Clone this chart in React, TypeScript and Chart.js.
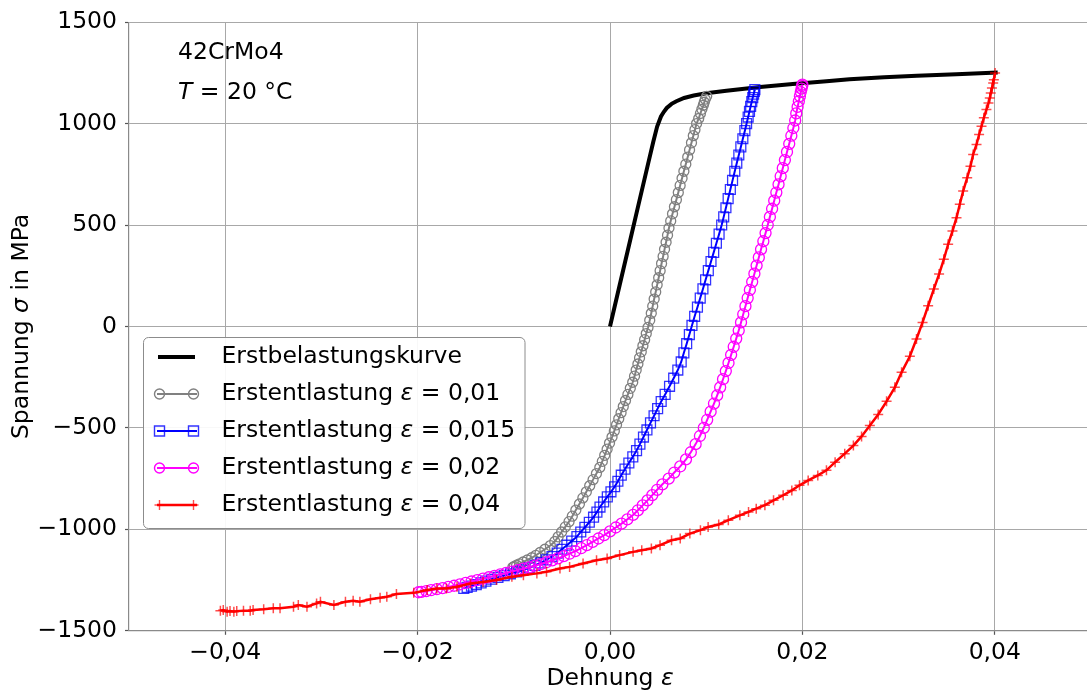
import React, { useEffect, useRef } from 'react';
import { Chart, registerables } from 'chart.js';

Chart.register(...registerables);

// ---------- data ----------
const X_TICKS = [-0.04, -0.02, 0, 0.02, 0.04];
const X_TICK_LABELS = ['\u22120,04', '\u22120,02', '0,00', '0,02', '0,04'];
const Y_TICKS = [-1500, -1000, -500, 0, 500, 1000, 1500];
const Y_TICK_LABELS = ['\u22121500', '\u22121000', '\u2212500', '0', '500', '1000', '1500'];

const SERIES_NAMES = ['Erstbelastungskurve', 'Erstentlastung', 'Erstentlastung', 'Erstentlastung', 'Erstentlastung'];
const SERIES_EPS = ['', '0,01', '0,015', '0,02', '0,04'];
const MATERIAL = '42CrMo4';
const TEMPERATURE = '20 \u00b0C';
const X_TITLE = 'Dehnung';
const Y_TITLE_A = 'Spannung';
const Y_TITLE_B = 'in MPa';

const BLACK_STRAIN = [0, 0.001, 0.002, 0.003, 0.004, 0.0045, 0.0049, 0.0051, 0.0053, 0.0056, 0.0059, 0.0064, 0.0069, 0.0077, 0.0087, 0.01, 0.0121, 0.0156, 0.019, 0.0225, 0.0249, 0.0285, 0.0319, 0.036, 0.0403];
const BLACK_STRESS = [0, 203, 405, 608, 810, 910, 985, 1010, 1035, 1058, 1077, 1097, 1110, 1126, 1138, 1149, 1162, 1180, 1195, 1209, 1218, 1228, 1236, 1243, 1251];

const GREY_STRAIN = [
  0.01005, 0.0099, 0.0098, 0.0097, 0.00955, 0.0094, 0.00922, 0.009,
  0.00883, 0.00866, 0.00847, 0.00827, 0.00808, 0.00788, 0.00768, 0.00749, 0.00729, 0.0071,
  0.0069, 0.0067, 0.0065, 0.00631, 0.00613, 0.00598, 0.00583, 0.00567, 0.00552, 0.00536,
  0.00521, 0.00506, 0.0049, 0.00475, 0.00459, 0.00444, 0.00429, 0.00413, 0.00395, 0.00377,
  0.0036, 0.00342, 0.00325, 0.00307, 0.0029, 0.00272, 0.00255, 0.00236, 0.00211, 0.00186,
  0.00161, 0.00138, 0.00115, 0.00091, 0.00068, 0.00045, 0.00021, -0.00005, -0.0003, -0.00055,
  -0.0008, -0.00106, -0.00141, -0.00176, -0.00211, -0.00246, -0.00282, -0.00318, -0.00355, -0.00392,
  -0.00426, -0.00465, -0.00503, -0.00539, -0.00574, -0.0062, -0.00677, -0.00727, -0.00771, -0.00814,
  -0.0086, -0.00903, -0.00941, -0.00971, -0.00996, -0.0101,
];
const GREY_STRESS = [
  1134, 1120, 1105, 1090, 1070, 1050, 1025, 1000,
  970, 940, 905, 870, 835, 800, 765, 730, 695, 660,
  625, 590, 555, 520, 485, 450, 415, 380, 345, 310,
  275, 240, 205, 170, 135, 100, 65, 30, -5, -35,
  -65, -95, -125, -155, -185, -215, -245, -275, -305, -335,
  -365, -395, -425, -455, -485, -515, -545, -575, -605, -635,
  -665, -695, -725, -755, -785, -815, -845, -875, -905, -935,
  -962, -988, -1013, -1037, -1060, -1080, -1098, -1114, -1128, -1140,
  -1151, -1161, -1170, -1177, -1183, -1187,
];

const BLUE_STRAIN = [
  0.01506, 0.015, 0.01493, 0.01484, 0.01474, 0.01462, 0.0145, 0.01436, 0.0142, 0.01402,
  0.01381, 0.0136, 0.01339, 0.01318, 0.01297, 0.01274, 0.01251, 0.01228, 0.01205, 0.01182,
  0.01161, 0.01134, 0.01106, 0.01078, 0.0105, 0.01022, 0.00994, 0.00966, 0.00938, 0.00909,
  0.0088, 0.00852, 0.00825, 0.00797, 0.00768, 0.0074, 0.00705, 0.00662, 0.00619, 0.00573,
  0.00532, 0.00495, 0.00458, 0.00421, 0.00384, 0.00348, 0.00311, 0.00276, 0.00237, 0.00196,
  0.00156, 0.00117, 0.00082, 0.00048, 0.0001, -0.00028, -0.00066, -0.00104, -0.00136, -0.00171,
  -0.00215, -0.00261, -0.00304, -0.00344, -0.00398, -0.00448, -0.005, -0.00549, -0.00603, -0.00663,
  -0.00723, -0.0078, -0.0084, -0.00905, -0.0097, -0.01035, -0.011, -0.01165, -0.0123, -0.0129,
  -0.0134, -0.0139, -0.0144, -0.01485, -0.0152,
];
const BLUE_STRESS = [
  1167, 1158, 1145, 1128, 1108, 1085, 1060, 1032, 1000, 965,
  925, 885, 845, 805, 765, 720, 675, 630, 585, 540,
  500, 455, 410, 365, 320, 275, 230, 185, 140, 95,
  50, 5, -40, -85, -130, -175, -215, -255, -295, -335,
  -370, -405, -440, -475, -510, -545, -580, -612, -643, -673,
  -703, -733, -763, -790, -815, -840, -865, -890, -915, -940,
  -965, -990, -1013, -1036, -1058, -1078, -1098, -1117, -1134, -1150,
  -1165, -1178, -1190, -1200, -1210, -1219, -1228, -1237, -1246, -1255,
  -1264, -1272, -1280, -1286, -1291,
];

const MAGENTA_STRAIN = [
  0.02, 0.01997, 0.01991, 0.01983, 0.01974, 0.01963, 0.0195, 0.01936, 0.01925, 0.01906,
  0.01885, 0.01863, 0.0184, 0.01818, 0.01796, 0.01774, 0.01752, 0.01729, 0.01707, 0.01685,
  0.01662, 0.0164, 0.01617, 0.01594, 0.0157, 0.01547, 0.01524, 0.01501, 0.01478, 0.01454,
  0.01431, 0.01408, 0.01385, 0.01362, 0.01338, 0.01312, 0.01286, 0.01259, 0.01232, 0.01204,
  0.01175, 0.01145, 0.01114, 0.01081, 0.01046, 0.0101, 0.00975, 0.00935, 0.0089, 0.0084,
  0.0079, 0.0073, 0.00668, 0.0061, 0.00545, 0.0049, 0.0044, 0.0039, 0.0034, 0.0029,
  0.0024, 0.0018, 0.0012, 0.0006, 0.0, -0.0006, -0.0012, -0.0018, -0.0024, -0.003,
  -0.0036, -0.0042, -0.0048, -0.0054, -0.006, -0.0066, -0.0072, -0.0078, -0.0084, -0.009,
  -0.0096, -0.0102, -0.0108, -0.0114, -0.012, -0.0126, -0.0132, -0.0138, -0.0144, -0.015,
  -0.0156, -0.0162, -0.0168, -0.0174, -0.018, -0.0186, -0.0191, -0.0196, -0.0199,
];
const MAGENTA_STRESS = [
  1192, 1185, 1172, 1155, 1135, 1110, 1082, 1050, 1015, 978,
  940, 900, 860, 820, 780, 740, 700, 660, 620, 580,
  540, 500, 460, 420, 380, 340, 300, 260, 220, 180,
  140, 100, 60, 20, -20, -60, -100, -140, -180, -220,
  -260, -300, -340, -380, -420, -460, -500, -540, -580, -620,
  -655, -690, -720, -750, -778, -805, -831, -857, -882, -906,
  -929, -951, -972, -991, -1010, -1028, -1045, -1062, -1078, -1093,
  -1107, -1120, -1132, -1143, -1153, -1162, -1171, -1179, -1187, -1194,
  -1201, -1208, -1215, -1222, -1229, -1236, -1243, -1250, -1257, -1264,
  -1271, -1278, -1284, -1290, -1295, -1300, -1304, -1308, -1310,
];

const RED_STRAIN = [
  0.04003, 0.0399, 0.03983, 0.0397, 0.03958, 0.03948, 0.03934, 0.03913, 0.03886, 0.03862,
  0.03837, 0.0381, 0.03775, 0.03747, 0.03713, 0.03671, 0.03636, 0.03602, 0.0356, 0.03515,
  0.0347, 0.03421, 0.03366, 0.03307, 0.03249, 0.03186, 0.03117, 0.03031, 0.02961, 0.02875,
  0.02788, 0.02701, 0.02615, 0.0253, 0.0244, 0.0234, 0.0225, 0.0216, 0.0206, 0.0197,
  0.0189, 0.018, 0.017, 0.0161, 0.0152, 0.0144, 0.0135, 0.0123, 0.0113, 0.0102,
  0.0094, 0.0083, 0.0073, 0.0064, 0.0052, 0.0043, 0.0033, 0.0024, 0.001, -0.0003,
  -0.0014, -0.0028, -0.0042, -0.0052, -0.0066, -0.0076, -0.009, -0.0102, -0.0118, -0.0132,
  -0.0145, -0.0159, -0.017, -0.018, -0.019, -0.0204, -0.0222, -0.0232, -0.0239, -0.0249,
  -0.026, -0.0267, -0.0275, -0.0287, -0.0301, -0.0305, -0.0315, -0.0324, -0.0329, -0.0343,
  -0.035, -0.036, -0.0371, -0.0374, -0.0381, -0.0388, -0.0391, -0.0395, -0.0398, -0.0402,
  -0.0405,
];
const RED_STRESS = [
  1249, 1216, 1200, 1175, 1151, 1126, 1101, 1069, 1028, 987,
  946, 897, 848, 790, 733, 667, 602, 536, 470, 405,
  331, 258, 184, 102, 20, -62, -147, -226, -300, -369,
  -434, -488, -542, -587, -627, -669, -709, -734, -759, -783,
  -808, -832, -857, -881, -898, -914, -931, -955, -976, -988,
  -1004, -1021, -1045, -1054, -1078, -1094, -1103, -1111, -1127, -1144,
  -1152, -1168, -1185, -1193, -1209, -1217, -1226, -1234, -1250, -1259,
  -1267, -1283, -1291, -1291, -1299, -1313, -1319, -1332, -1337, -1345,
  -1357, -1352, -1357, -1373, -1357, -1365, -1381, -1373, -1381, -1389,
  -1389, -1394, -1398, -1401, -1401, -1403, -1406, -1403, -1406, -1398,
  -1401,
];

// ---------- styling ----------
const FAMILY = "'DejaVu Sans', sans-serif";
const FS = 23.5;
const GRID = '#a8a8a8';
const SPINE = '#8a8a8a';
const TICK = '#555555';

const pts = (xs: number[], ys: number[]) => xs.map((x, i) => ({ x, y: ys[i] }));

type Part = [string, boolean];
function drawRich(ctx: CanvasRenderingContext2D, parts: Part[], x: number, y: number, align: 'left' | 'center') {
  const fonts = parts.map(([, it]) => `${it ? 'italic ' : ''}${FS}px ${FAMILY}`);
  let total = 0;
  const widths = parts.map(([t], i) => {
    ctx.font = fonts[i];
    const w = ctx.measureText(t).width;
    total += w;
    return w;
  });
  let cx = align === 'center' ? x - total / 2 : x;
  ctx.textAlign = 'left';
  ctx.textBaseline = 'middle';
  ctx.fillStyle = '#000';
  parts.forEach(([t], i) => {
    ctx.font = fonts[i];
    ctx.fillText(t, cx, y);
    cx += widths[i];
  });
}

function roundRect(ctx: CanvasRenderingContext2D, x: number, y: number, w: number, h: number, r: number) {
  ctx.beginPath();
  ctx.moveTo(x + r, y);
  ctx.lineTo(x + w - r, y);
  ctx.arcTo(x + w, y, x + w, y + r, r);
  ctx.lineTo(x + w, y + h - r);
  ctx.arcTo(x + w, y + h, x + w - r, y + h, r);
  ctx.lineTo(x + r, y + h);
  ctx.arcTo(x, y + h, x, y + h - r, r);
  ctx.lineTo(x, y + r);
  ctx.arcTo(x, y, x + r, y, r);
  ctx.closePath();
}

function marker(ctx: CanvasRenderingContext2D, kind: string, x: number, y: number, color: string, lw: number) {
  ctx.strokeStyle = color;
  ctx.lineWidth = lw;
  ctx.beginPath();
  if (kind === 'circle') {
    ctx.arc(x, y, 5, 0, Math.PI * 2);
  } else if (kind === 'rect') {
    ctx.rect(x - 5, y - 5, 10, 10);
  } else if (kind === 'cross') {
    ctx.moveTo(x - 5, y);
    ctx.lineTo(x + 5, y);
    ctx.moveTo(x, y - 5);
    ctx.lineTo(x, y + 5);
  }
  ctx.stroke();
}

const LEGEND_STYLE = [
  { line: '#000000', lw: 4, mk: '', mc: '' },
  { line: '#808080', lw: 2, mk: 'circle', mc: '#808080' },
  { line: '#0000ff', lw: 2, mk: 'rect', mc: 'rgba(0,0,255,0.8)' },
  { line: '#ff00ff', lw: 2, mk: 'circle', mc: '#ff00ff' },
  { line: '#ff0000', lw: 2.5, mk: 'cross', mc: 'rgba(255,0,0,0.7)' },
];

const overlay = {
  id: 'overlay',
  afterDraw(chart: any) {
    const ctx: CanvasRenderingContext2D = chart.ctx;
    const area = chart.chartArea;
    ctx.save();
    // axis titles
    drawRich(ctx, [[X_TITLE + ' ', false], ['\u03b5', true]], (area.left + area.right) / 2, 679, 'center');
    ctx.save();
    ctx.translate(22, (area.top + area.bottom) / 2);
    ctx.rotate(-Math.PI / 2);
    drawRich(ctx, [[Y_TITLE_A + ' ', false], ['\u03c3', true], [' ' + Y_TITLE_B, false]], 0, 0, 'center');
    ctx.restore();
    // annotations
    drawRich(ctx, [[MATERIAL, false]], 178, 53, 'left');
    drawRich(ctx, [['T', true], [' = ' + TEMPERATURE, false]], 178, 93, 'left');
    // legend
    const lx = 143.5, ly = 337.5, lw = 381.5, lh = 191;
    roundRect(ctx, lx, ly, lw, lh, 5);
    ctx.fillStyle = 'rgba(255,255,255,0.92)';
    ctx.fill();
    ctx.strokeStyle = '#8c8c8c';
    ctx.lineWidth = 1;
    ctx.stroke();
    LEGEND_STYLE.forEach((s, i) => {
      const ry = 357 + i * 37;
      ctx.strokeStyle = s.line;
      ctx.lineWidth = s.lw;
      ctx.beginPath();
      ctx.moveTo(i === 0 ? 158 : 157, ry);
      ctx.lineTo(i === 0 ? 195 : 197, ry);
      ctx.stroke();
      if (s.mk) {
        marker(ctx, s.mk, 159.5, ry, s.mc, 1.4);
        marker(ctx, s.mk, 193.5, ry, s.mc, 1.4);
      }
      if (i === 0) {
        drawRich(ctx, [[SERIES_NAMES[i], false]], 221.5, ry, 'left');
      } else {
        drawRich(ctx, [[SERIES_NAMES[i] + ' ', false], ['\u03b5', true], [' = ' + SERIES_EPS[i], false]], 221.5, ry, 'left');
      }
    });
    ctx.restore();
  },
};

export default function App() {
  const ref = useRef<HTMLCanvasElement>(null);
  useEffect(() => {
    const canvas = ref.current!;
    const tickFont = { family: FAMILY, size: FS };
    const chart = new Chart(canvas, {
      type: 'scatter',
      data: {
        datasets: [
          {
            data: pts(BLACK_STRAIN, BLACK_STRESS),
            showLine: true,
            borderColor: '#000000',
            borderWidth: 4,
            pointRadius: 0,
            order: 5,
          },
          {
            data: pts(GREY_STRAIN, GREY_STRESS),
            showLine: true,
            borderColor: '#808080',
            borderWidth: 2,
            pointStyle: 'circle',
            pointRadius: 5,
            pointBorderWidth: 1.3,
            pointBorderColor: '#808080',
            pointBackgroundColor: 'rgba(0,0,0,0)',
            order: 4,
          },
          {
            data: pts(BLUE_STRAIN, BLUE_STRESS),
            showLine: true,
            borderColor: '#0000ff',
            borderWidth: 2,
            pointStyle: 'rect',
            pointRadius: 7,
            pointBorderWidth: 1.3,
            pointBorderColor: 'rgba(0,0,255,0.8)',
            pointBackgroundColor: 'rgba(0,0,0,0)',
            order: 3,
          },
          {
            data: pts(MAGENTA_STRAIN, MAGENTA_STRESS),
            showLine: true,
            borderColor: '#ff00ff',
            borderWidth: 2,
            pointStyle: 'circle',
            pointRadius: 5.5,
            pointBorderWidth: 1.3,
            pointBorderColor: '#ff00ff',
            pointBackgroundColor: 'rgba(0,0,0,0)',
            order: 2,
          },
          {
            data: pts(RED_STRAIN, RED_STRESS),
            showLine: true,
            borderColor: '#ff0000',
            borderWidth: 2.5,
            pointStyle: 'cross',
            pointRadius: 5,
            pointBorderWidth: 1.5,
            pointBorderColor: 'rgba(255,0,0,0.7)',
            pointBackgroundColor: 'rgba(0,0,0,0)',
            order: 1,
          },
        ],
      },
      options: {
        responsive: false,
        maintainAspectRatio: false,
        devicePixelRatio: 1,
        animation: false,
        layout: { padding: { left: 0, top: 20.7, right: 9, bottom: 0 } },
        plugins: { legend: { display: false }, tooltip: { enabled: false } },
        elements: { line: { tension: 0 } },
        scales: {
          x: {
            type: 'linear',
            min: -0.05,
            max: 0.05,
            afterBuildTicks: (s: any) => {
              s.ticks = X_TICKS.map((v) => ({ value: v }));
            },
            afterFit: (s: any) => {
              s.height = 62.2;
            },
            ticks: {
              callback: (_v: any, i: number) => X_TICK_LABELS[i],
              font: tickFont,
              color: '#000',
              padding: 4,
              maxRotation: 0,
              autoSkip: false,
            },
            grid: { color: GRID, lineWidth: 1, drawTicks: true, tickLength: 4, tickColor: TICK, tickWidth: 1.2 },
            border: { color: SPINE, width: 1.2 },
          },
          y: {
            type: 'linear',
            min: -1500,
            max: 1500,
            afterBuildTicks: (s: any) => {
              s.ticks = Y_TICKS.map((v) => ({ value: v }));
            },
            afterFit: (s: any) => {
              s.width = 129;
            },
            ticks: {
              callback: (_v: any, i: number) => Y_TICK_LABELS[i],
              font: tickFont,
              color: '#000',
              padding: 8,
              autoSkip: false,
            },
            grid: { color: GRID, lineWidth: 1, drawTicks: true, tickLength: 4, tickColor: TICK, tickWidth: 1.2 },
            border: { color: SPINE, width: 1.2 },
          },
        },
      },
      plugins: [overlay],
    } as any);
    return () => chart.destroy();
  }, []);
  return (
    <div style={{ position: 'fixed', left: 0, top: 0, width: 1087, height: 693, overflow: 'hidden', background: '#ffffff' }}>
      <canvas ref={ref} width={1100} height={693} style={{ display: 'block', width: 1100, height: 693 }} />
    </div>
  );
}
